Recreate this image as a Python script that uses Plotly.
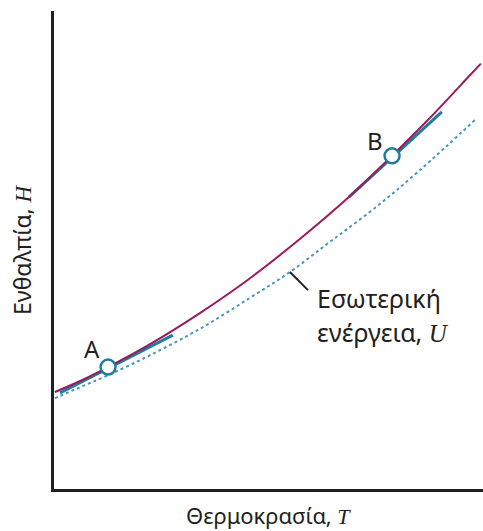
import plotly.graph_objects as go

# Enthalpy curve H(T)
T_H = [0.02, 0.61, 1.26, 2.24, 3.40, 4.57, 5.73, 6.90, 7.88, 8.76, 9.70, 9.95]
H_vals = [2.03, 2.26, 2.55, 3.03, 3.68, 4.41, 5.23, 6.13, 6.97, 7.76, 8.66, 8.90]
# Internal energy curve U(T)
T_U = [0.02, 0.61, 1.26, 2.24, 3.40, 4.57, 5.50, 6.43, 7.48, 8.53, 9.86]
U_vals = [1.90, 2.13, 2.38, 2.80, 3.35, 4.00, 4.54, 5.17, 5.88, 6.67, 7.76]
# Tangent segments
tanA_T = [0.14, 2.77]
tanA_H = [2.01, 3.22]
tanB_T = [6.88, 9.04]
tanB_H = [6.11, 7.89]
# Points
pts_T = [1.26, 7.88]
pts_H = [2.55, 6.97]
pt_labels = ["A", "B"]
lab_T = [0.89, 7.48]
lab_H = [2.93, 7.30]
# leader line for U label
lead_T = [5.50, 5.92]
lead_H = [4.54, 4.16]

PURPLE = "#9b1b5b"
TEAL = "#1f7c9e"
DOT = "#4a97b8"
INK = "#231f20"
SANS = "Noto Sans, Open Sans, sans-serif"

def it(s):
    return "<span style=\"font-family:'Liberation Serif', serif\"><i>%s</i></span>" % s

fig = go.Figure()
fig.add_trace(go.Scatter(x=T_U, y=U_vals, mode="lines", line=dict(color=DOT, width=2, dash="dot", shape="spline")))
fig.add_trace(go.Scatter(x=tanA_T, y=tanA_H, mode="lines", line=dict(color=TEAL, width=3)))
fig.add_trace(go.Scatter(x=tanB_T, y=tanB_H, mode="lines", line=dict(color=TEAL, width=3)))
fig.add_trace(go.Scatter(x=T_H, y=H_vals, mode="lines", line=dict(color=PURPLE, width=2, shape="spline")))
fig.add_trace(go.Scatter(x=pts_T, y=pts_H, mode="markers",
                         marker=dict(size=15, color="white", line=dict(color=TEAL, width=2.5))))
fig.add_trace(go.Scatter(x=lead_T, y=lead_H, mode="lines", line=dict(color=INK, width=2)))

ann = []
for t, h, s in zip(lab_T, lab_H, pt_labels):
    ann.append(dict(x=t, y=h, text=s, showarrow=False, font=dict(family=SANS, size=24, color=INK)))
ann.append(dict(x=6.08, y=4.0, text="Εσωτερική", xanchor="left", showarrow=False,
                font=dict(family=SANS, size=25, color=INK)))
ann.append(dict(x=6.08, y=3.28, text="ενέργεια, " + it("U"), xanchor="left", showarrow=False,
                font=dict(family=SANS, size=25, color=INK)))
ann.append(dict(xref="paper", yref="paper", x=0.5, y=0, yshift=-26, yanchor="middle",
                text="Θερμοκρασία, " + it("T"),
                showarrow=False, font=dict(family=SANS, size=22, color=INK)))
ann.append(dict(xref="paper", yref="paper", x=0, y=0.5, xshift=-32, xanchor="center", yanchor="middle",
                textangle=-90,
                text="Ενθαλπία, " + it("H"), showarrow=False, font=dict(family=SANS, size=23, color=INK)))

fig.update_layout(
    width=483, height=531,
    margin=dict(l=54, r=0, t=11, b=42),
    paper_bgcolor="white", plot_bgcolor="white",
    showlegend=False,
    annotations=ann,
    xaxis=dict(range=[0, 10], showgrid=False, zeroline=False, showticklabels=False, ticks="",
               showline=True, linecolor=INK, linewidth=3),
    yaxis=dict(range=[0, 10], showgrid=False, zeroline=False, showticklabels=False, ticks="",
               showline=True, linecolor=INK, linewidth=3),
)
fig.write_html("out.html", config={"displayModeBar": False},
               post_script="document.body.style.margin='0';")
